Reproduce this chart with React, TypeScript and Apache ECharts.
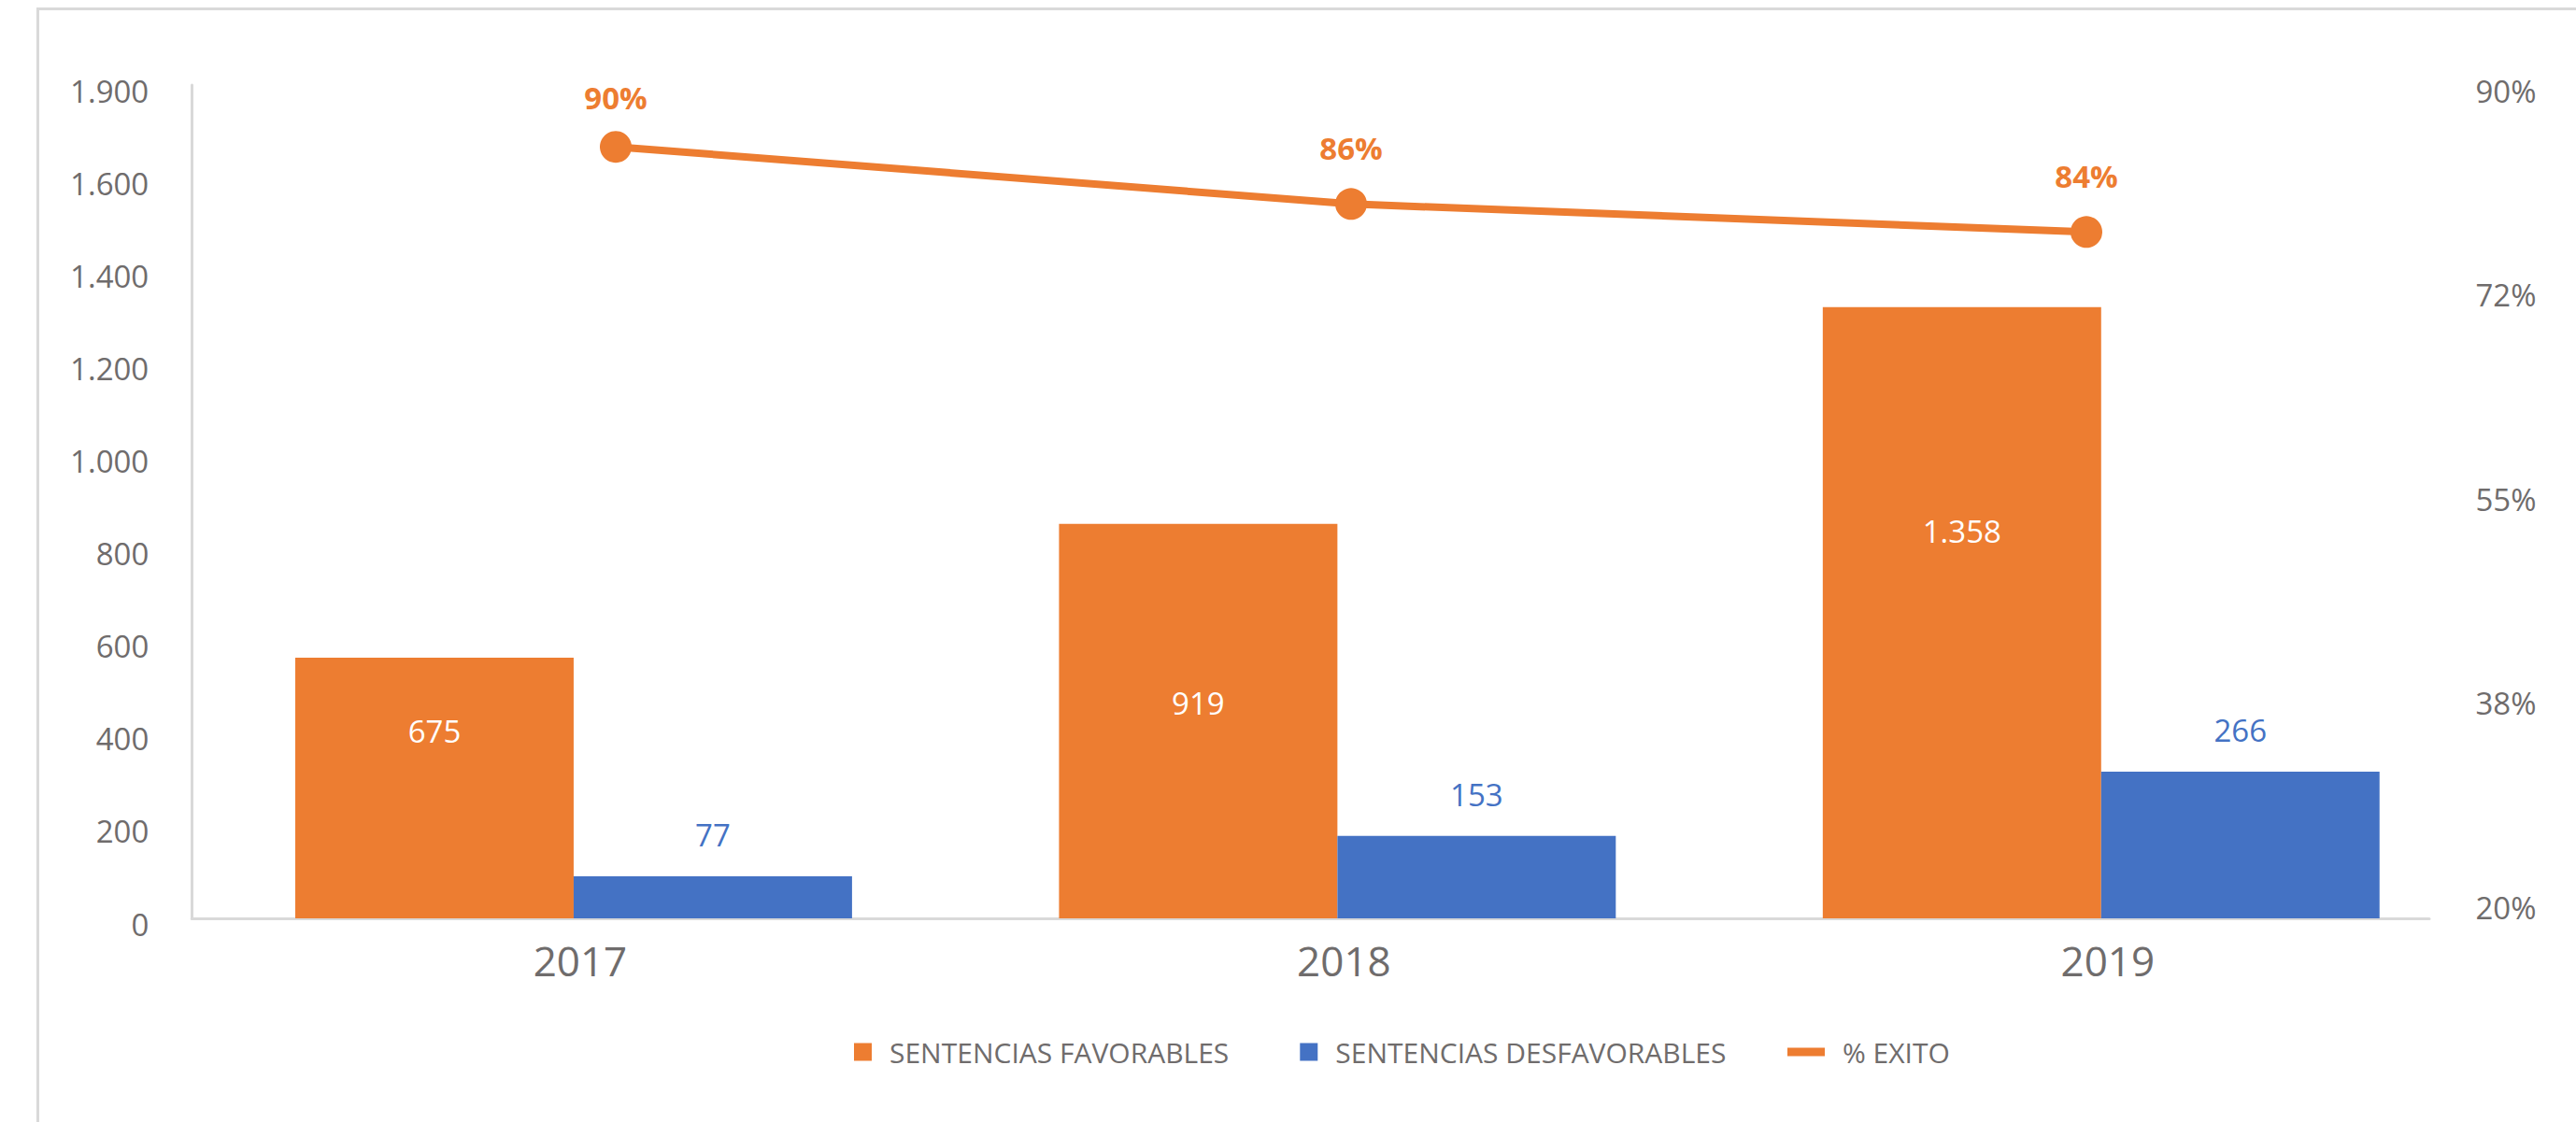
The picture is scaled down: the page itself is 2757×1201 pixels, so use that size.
import React, { useEffect, useRef } from "react";
import * as echarts from "echarts";

const years = ["2017", "2018", "2019"];
// bar heights as drawn against the left axis
const favorableHeights = [563, 852, 1320];
const favorableLabels = ["675", "919", "1.358"];
const unfavorableHeights = [91, 178, 317];
const unfavorableLabels = ["77", "153", "266"];
// line points as drawn against the right axis
const exitoValues = [84.7, 79.8, 77.4];
const exitoLabels = ["90%", "86%", "84%"];

const leftTickLabels = ["0", "200", "400", "600", "800", "1.000", "1.200", "1.400", "1.600", "1.900"];
const rightTickLabels = ["20%", "38%", "55%", "72%", "90%"];

// layout-only: vertical shifts of some data labels
const favorableLabelShift = [-61, -19, -87];
const exitoLabelShift = [0, -7, -7];

const ORANGE = "#ED7D31";
const BLUE = "#4472C4";
const GRAY_TEXT = "#6f6c6c";
const AXIS_GRAY = "#d9d9d9";
const FONT = "'Open Sans', 'Noto Sans', sans-serif";

export default function App() {
  const ref = useRef<HTMLDivElement>(null);

  useEffect(() => {
    if (!ref.current) return;
    const chart = echarts.init(ref.current, undefined, { renderer: "svg" });

    const option: any = {
      animation: false,
      backgroundColor: "#ffffff",
      textStyle: { fontFamily: FONT },
      graphic: [
        {
          type: "rect",
          shape: { x: 40.5, y: 9.5, width: 4000, height: 3000 },
          style: { fill: "none", stroke: AXIS_GRAY, lineWidth: 3 },
          silent: true,
          z: -10,
        },
      ],
      grid: [
        { left: 205.25, right: 99.5, top: 91, bottom: 218 },
        { left: 265.5, right: 130.5, top: 91, bottom: 236 },
        { left: 205.25, right: 157, top: 91, bottom: 218 },
      ],
      legend: [
        {
          left: 909,
          top: 1106,
          itemWidth: 19,
          itemHeight: 19,
          itemGap: 76,
          icon: "rect",
          data: ["SENTENCIAS FAVORABLES", "SENTENCIAS DESFAVORABLES"],
          textStyle: { fontSize: 30, color: GRAY_TEXT, fontFamily: FONT, padding: [0, 0, 0, 14] },
        },
        {
          left: 1908,
          top: 1106,
          itemWidth: 40,
          itemHeight: 9,
          icon: "rect",
          data: ["% EXITO"],
          textStyle: { fontSize: 30, color: GRAY_TEXT, fontFamily: FONT, padding: [0, 0, 0, 14] },
        },
      ],
      xAxis: [
        {
          gridIndex: 0,
          type: "category",
          data: years,
          axisLine: { show: false },
          axisTick: { show: false },
          axisLabel: {
            fontSize: 44,
            color: GRAY_TEXT,
            margin: 23,
            fontFamily: FONT,
            padding: [0, 0, 0, 14],
          },
        },
        {
          gridIndex: 1,
          type: "category",
          data: years,
          show: false,
        },
        {
          gridIndex: 2,
          type: "category",
          data: years,
          axisLine: { show: true, onZero: false, lineStyle: { color: AXIS_GRAY, width: 3 } },
          axisTick: { show: false },
          axisLabel: { show: false },
        },
      ],
      yAxis: [
        {
          gridIndex: 0,
          type: "value",
          min: 0,
          max: 1800,
          interval: 200,
          axisLine: { show: true, lineStyle: { color: AXIS_GRAY, width: 3 } },
          axisTick: { show: false },
          splitLine: { show: false },
          axisLabel: {
            margin: 46,
            fontSize: 33,
            color: GRAY_TEXT,
            fontFamily: FONT,
            verticalAlign: "top",
            lineHeight: 12,
            formatter: (v: number) => leftTickLabels[Math.round(v / 200)] ?? "",
          },
        },
        {
          gridIndex: 1,
          type: "value",
          position: "right",
          min: 20,
          max: 90,
          interval: 17.5,
          axisLine: { show: false },
          axisTick: { show: false },
          splitLine: { show: false },
          axisLabel: {
            margin: 23,
            fontSize: 33,
            color: GRAY_TEXT,
            fontFamily: FONT,
            verticalAlign: "top",
            lineHeight: 12,
            formatter: (v: number) => rightTickLabels[Math.round((v - 20) / 17.5)] ?? "",
          },
        },
        {
          gridIndex: 2,
          type: "value",
          show: false,
        },
      ],
      series: [
        {
          name: "SENTENCIAS FAVORABLES",
          type: "bar",
          xAxisIndex: 0,
          yAxisIndex: 0,
          barGap: "0%",
          barCategoryGap: "27.1%",
          itemStyle: { color: ORANGE },
          data: favorableHeights.map((v, i) => ({
            value: v,
            label: { offset: [0, favorableLabelShift[i]] },
          })),
          label: {
            show: true,
            position: "inside",
            color: "#ffffff",
            fontSize: 33,
            fontFamily: FONT,
            formatter: (p: any) => favorableLabels[p.dataIndex],
          },
          z: 2,
        },
        {
          name: "SENTENCIAS DESFAVORABLES",
          type: "bar",
          xAxisIndex: 0,
          yAxisIndex: 0,
          barGap: "0%",
          barCategoryGap: "27.1%",
          itemStyle: { color: BLUE },
          data: unfavorableHeights,
          label: {
            show: true,
            position: "top",
            distance: 28,
            color: BLUE,
            fontSize: 33,
            fontFamily: FONT,
            formatter: (p: any) => unfavorableLabels[p.dataIndex],
          },
          z: 2,
        },
        {
          name: "% EXITO",
          type: "line",
          xAxisIndex: 1,
          yAxisIndex: 1,
          data: exitoValues.map((v, i) => ({
            value: v,
            label: { offset: [0, exitoLabelShift[i]] },
          })),
          symbol: "circle",
          symbolSize: 34,
          lineStyle: { color: ORANGE, width: 8 },
          itemStyle: { color: ORANGE },
          label: {
            show: true,
            position: "top",
            distance: 19,
            color: ORANGE,
            fontSize: 33,
            fontWeight: "bold",
            fontFamily: FONT,
            formatter: (p: any) => exitoLabels[p.dataIndex],
          },
          z: 5,
        },
      ],
    };

    chart.setOption(option);
    return () => chart.dispose();
  }, []);

  return (
    <div
      ref={ref}
      style={{ position: "absolute", left: 0, top: 0, width: 2757, height: 1201 }}
    />
  );
}
